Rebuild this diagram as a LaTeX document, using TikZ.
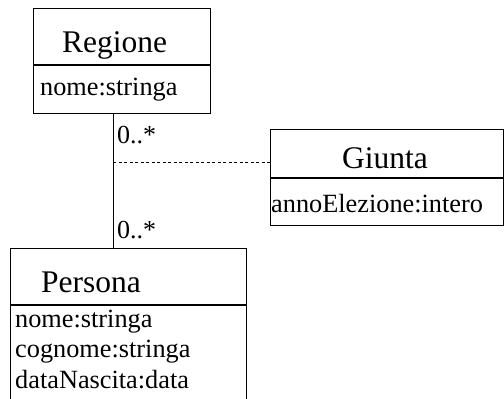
\documentclass[tikz,border=0pt]{standalone}
\usepackage{fontspec}
\setmainfont{Liberation Serif}
\usetikzlibrary{calc}
\begin{document}
\begin{tikzpicture}[x=1pt,y=-1pt,
  box/.style={draw=black, line width=0.9pt, rectangle, inner sep=0pt, anchor=north west},
  ttl/.style={font=\fontsize{31.5}{36}\selectfont, anchor=base west, inner sep=0pt},
  attr/.style={font=\fontsize{26.3}{30.5}\selectfont, anchor=base west, inner sep=0pt},
  mult/.style={font=\fontsize{26}{30}\selectfont, anchor=base west, inner sep=0pt},
  link/.style={draw=black, line width=0.9pt},
  assoc/.style={draw=black, line width=0.7pt, dash pattern=on 3pt off 2.5pt}]
\useasboundingbox (0,0) rectangle (504,399);
\clip (0,0) rectangle (504,399);
% Regione
\node[box, minimum width=177pt, minimum height=56pt] (regT) at (33,8) {};
\node[box, minimum width=177pt, minimum height=48pt] (regA) at (regT.south west) {};
\node[ttl] (regN) at (62,52) {Regione};
\node[attr] (regX) at (40,95) {nome:stringa};
% Giunta
\node[box, minimum width=233pt, minimum height=48pt] (giuT) at (270,129) {};
\node[box, minimum width=233pt, minimum height=47pt] (giuA) at (giuT.south west) {};
\node[ttl] (giuN) at (342,168) {Giunta};
\node[attr] (giuX) at (271,212) {annoElezione:intero};
% Persona
\node[box, minimum width=236pt, minimum height=56pt] (perT) at (10,248) {};
\node[box, minimum width=236pt, minimum height=110pt] (perA) at (perT.south west) {};
\node[ttl] (perN) at (41,292) {Persona};
\node[attr] (perX1) at (15,327) {nome:stringa};
\node[attr] (perX2) at (15,357.5) {cognome:stringa};
\node[attr] (perX3) at (15,388) {dataNascita:data};
% association
\coordinate (aTop) at ($(regA.south west)+(80.3,0)$);
\coordinate (aBot) at (aTop |- perT.north);
\coordinate (aMid) at ($(aTop)!0.363!(aBot)$);
\draw[link] (aTop) -- (aBot);
\draw[assoc] (aMid) -- (aMid -| giuT.west);
\node[mult] (m1) at (117,143) {0..*};
\node[mult] (m2) at (117,238) {0..*};
\end{tikzpicture}
\end{document}
